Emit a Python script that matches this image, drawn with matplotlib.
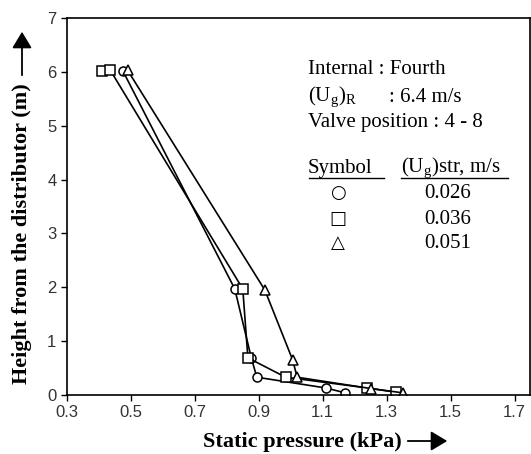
import matplotlib
matplotlib.use("Agg")
import matplotlib.pyplot as plt
from matplotlib.patches import FancyArrowPatch

# Data (static pressure kPa, height m)
circle_x = [0.475, 0.825, 0.877, 0.894, 1.11, 1.17]
circle_y = [6.02, 1.97, 0.68, 0.33, 0.13, 0.04]
square_x = [0.41, 0.435, 0.85, 0.866, 0.984, 1.24, 1.33]
square_y = [6.02, 6.04, 1.97, 0.69, 0.33, 0.13, 0.05]
tri_x = [0.49, 0.919, 1.006, 1.02, 1.25, 1.35]
tri_y = [6.03, 1.95, 0.65, 0.33, 0.12, 0.04]

xticks = [0.3, 0.5, 0.7, 0.9, 1.1, 1.3, 1.5, 1.7]
yticks = [0, 1, 2, 3, 4, 5, 6, 7]
legend_vals = ["0.026", "0.036", "0.051"]

fig = plt.figure(figsize=(5.31, 4.54), dpi=100)
ax = fig.add_axes([0.126, 0.130, 0.872, 0.830])

mk = dict(color="black", lw=1.2, markerfacecolor="white", markeredgecolor="black",
          markeredgewidth=1.1, markersize=6.5)
ax.plot(circle_x, circle_y, marker="o", **mk)
ax.plot(square_x, square_y, marker="s", **mk)
ax.plot(tri_x, tri_y, marker="^", **mk)

ax.set_xlim(0.3, 1.748)
ax.set_ylim(0, 7)
ax.set_xticks(xticks)
ax.set_xticklabels([f"{v:.1f}" for v in xticks], fontfamily="Liberation Sans", fontsize=12, color="#333333")
ax.set_yticks(yticks)
ax.set_yticklabels([str(v) for v in yticks], fontfamily="Liberation Sans", fontsize=12, color="#333333")
ax.tick_params(direction="out", length=4, width=1)
for s in ax.spines.values():
    s.set_linewidth(1.2)

serif = "Liberation Serif"
fs = 15
fig.text(308/531, 1 - 70/454, "Internal : Fourth", fontfamily=serif, fontsize=fs, va="center", ha="left")
fig.text(308/531, 1 - 97/454, r"(U$_\mathregular{g}$)$_\mathregular{R}$", fontfamily=serif, fontsize=fs, va="center", ha="left")
fig.text(389/531, 1 - 97/454, ": 6.4 m/s", fontfamily=serif, fontsize=fs, va="center", ha="left")
fig.text(308/531, 1 - 122/454, "Valve position : 4 - 8", fontfamily=serif, fontsize=fs, va="center", ha="left")
fig.text(308/531, 1 - 168/454, "Symbol", fontfamily=serif, fontsize=fs, va="center", ha="left")
fig.text(401/531, 1 - 168/454, r"(U$_\mathregular{g}$)str, m/s", fontfamily=serif, fontsize=fs, va="center", ha="left")
# underline
fig.add_artist(plt.Line2D([309/531, 384/531], [1 - 178/454, 1 - 178/454], color="black", lw=1))
fig.add_artist(plt.Line2D([401/531, 508/531], [1 - 178/454, 1 - 178/454], color="black", lw=1))

syms = ["○", "□", "△"]
ys = [193, 219, 243]
for s, v, yy in zip(syms, legend_vals, ys):
    fig.text(338/531, 1 - yy/454, s, fontfamily="DejaVu Sans", fontsize=13, va="center", ha="center")
    fig.text(448/531, 1 - yy/454, v, fontfamily=serif, fontsize=fs, va="center", ha="center")

# axis labels with arrows
fig.text(22/531, 1 - 234/454, "Height from the distributor (m)", fontfamily=serif, fontweight="bold",
         fontsize=16, rotation=90, va="center", ha="center")
fig.add_artist(FancyArrowPatch((22/531, 1 - 78/454), (22/531, 1 - 29/454),
               transform=fig.transFigure, arrowstyle="-|>,head_length=10,head_width=6",
               color="black", lw=1.3, mutation_scale=1))
fig.text(302/531, 1 - 442/454, "Static pressure (kPa)", fontfamily=serif, fontweight="bold",
         fontsize=16, va="center", ha="center")
fig.add_artist(FancyArrowPatch((405/531, 1 - 441/454), (450/531, 1 - 441/454),
               transform=fig.transFigure, arrowstyle="-|>,head_length=10,head_width=6",
               color="black", lw=1.3, mutation_scale=1))

fig.savefig("out.png", dpi=100)
